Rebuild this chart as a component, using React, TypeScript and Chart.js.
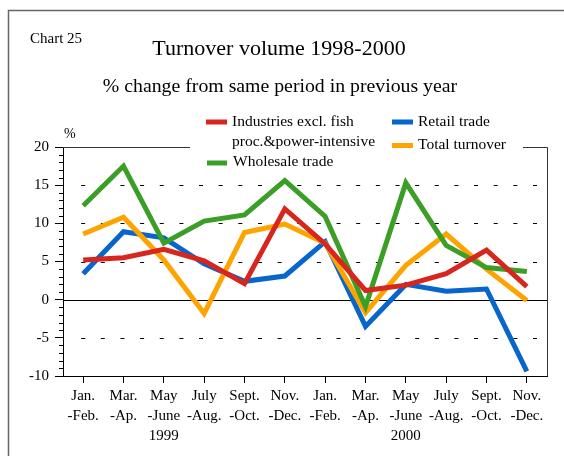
import React, { useEffect, useRef } from "react";
import { Chart, registerables } from "chart.js";

Chart.register(...registerables);

const SERIF = '"Liberation Serif", "Times New Roman", serif';

const categories: string[][] = [
  ["Jan.", "-Feb."],
  ["Mar.", "-Ap."],
  ["May", "-June", "1999"],
  ["July", "-Aug."],
  ["Sept.", "-Oct."],
  ["Nov.", "-Dec."],
  ["Jan.", "-Feb."],
  ["Mar.", "-Ap."],
  ["May", "-June", "2000"],
  ["July", "-Aug."],
  ["Sept.", "-Oct."],
  ["Nov.", "-Dec."],
];

const industries = [5.2, 5.5, 6.6, 5.1, 2.1, 11.9, 7.3, 1.2, 1.9, 3.4, 6.5, 1.7];
const wholesale = [12.3, 17.5, 7.4, 10.3, 11.1, 15.6, 10.9, -0.9, 15.3, 7.1, 4.2, 3.7];
const retail = [3.4, 8.9, 8.1, 4.7, 2.4, 3.1, 7.6, -3.5, 2.0, 1.1, 1.4, -9.4];
const total = [8.6, 10.8, 5.2, -1.8, 8.8, 9.9, 7.4, -1.7, 4.5, 8.6, 4.0, -0.1];

const yTicks = [-10, -5, 0, 5, 10, 15, 20];
const gridValues = [-5, 5, 10, 15];

const RED = "#d6261d";
const GREEN = "#3b9f27";
const BLUE = "#0666cb";
const ORANGE = "#ffa300";

const decor = {
  id: "decor",
  beforeDatasetsDraw(chart: any) {
    const { ctx, chartArea, scales } = chart;
    const { left, right, top, bottom } = chartArea;
    const x = scales.x;
    const y = scales.y;
    ctx.save();
    const x0 = x.getPixelForValue(0);
    const xEnd = right - 12;
    const n = 23;
    const period = (xEnd - x0) / n;
    ctx.strokeStyle = "#000";
    ctx.lineWidth = 1;
    gridValues.forEach((v) => {
      const py = Math.round(y.getPixelForValue(v)) + 0.5;
      ctx.beginPath();
      for (let k = 0; k <= n; k++) {
        const cx = x0 + k * period;
        ctx.moveTo(cx - 2, py);
        ctx.lineTo(cx + 2, py);
      }
      ctx.stroke();
    });
    const zy = Math.round(y.getPixelForValue(0)) + 0.5;
    ctx.beginPath();
    ctx.moveTo(left, zy);
    ctx.lineTo(right, zy);
    ctx.stroke();
    ctx.beginPath();
    for (let v = -10; v <= 20; v++) {
      if (v % 5 === 0) continue;
      const py = Math.round(y.getPixelForValue(v)) + 0.5;
      ctx.moveTo(left - 4, py);
      ctx.lineTo(left, py);
    }
    ctx.stroke();
    ctx.strokeStyle = "#333";
    ctx.beginPath();
    ctx.moveTo(left, top + 0.5);
    ctx.lineTo(190, top + 0.5);
    ctx.moveTo(523, top + 0.5);
    ctx.lineTo(right + 0.5, top + 0.5);
    ctx.lineTo(right + 0.5, bottom);
    ctx.stroke();
    ctx.restore();
  },
  afterDraw(chart: any) {
    const { ctx } = chart;
    ctx.save();
    ctx.strokeStyle = "#666";
    ctx.lineWidth = 1.5;
    ctx.beginPath();
    ctx.moveTo(8.5, 460);
    ctx.lineTo(8.5, 10.5);
    ctx.lineTo(570, 10.5);
    ctx.stroke();

    ctx.fillStyle = "#000";
    ctx.textBaseline = "alphabetic";
    ctx.textAlign = "left";
    ctx.font = `15px ${SERIF}`;
    ctx.fillText("Chart 25", 30, 43);
    ctx.textAlign = "center";
    ctx.font = `22px ${SERIF}`;
    ctx.fillText("Turnover volume 1998-2000", 279, 55);
    ctx.font = `19.8px ${SERIF}`;
    ctx.fillText("% change from same period in previous year", 280, 92);

    ctx.textAlign = "left";
    ctx.font = `14px ${SERIF}`;
    ctx.fillText("%", 64, 138);

    ctx.font = `15.5px ${SERIF}`;
    ctx.fillStyle = RED;
    ctx.fillRect(206, 119.5, 21, 5);
    ctx.fillStyle = GREEN;
    ctx.fillRect(207, 160.5, 20, 5);
    ctx.fillStyle = BLUE;
    ctx.fillRect(392, 119.5, 21, 5);
    ctx.fillStyle = ORANGE;
    ctx.fillRect(392, 143, 21, 5);
    ctx.fillStyle = "#000";
    ctx.fillText("Industries excl. fish", 232, 126);
    ctx.fillText("proc.&power-intensive", 232, 146);
    ctx.fillText("Wholesale trade", 233, 166);
    ctx.fillText("Retail trade", 418, 126);
    ctx.fillText("Total turnover", 418, 149);
    ctx.restore();
  },
};

export default function App() {
  const ref = useRef<HTMLCanvasElement>(null);
  useEffect(() => {
    const ds = (label: string, data: number[], color: string, order: number) => ({
      label,
      data,
      borderColor: color,
      backgroundColor: color,
      borderWidth: 5,
      pointRadius: 0,
      tension: 0,
      fill: false,
      order,
    });
    const chart = new Chart(ref.current as HTMLCanvasElement, {
      type: "line",
      data: {
        labels: categories as any,
        datasets: [
          ds("Industries excl. fish proc.&power-intensive", industries, RED, 0),
          ds("Wholesale trade", wholesale, GREEN, 1),
          ds("Total turnover", total, ORANGE, 2),
          ds("Retail trade", retail, BLUE, 3),
        ],
      },
      options: {
        responsive: false,
        animation: false,
        devicePixelRatio: 1,
        layout: { padding: { top: 147, right: 17, bottom: 0, left: 0 } },
        plugins: {
          legend: { display: false },
          tooltip: { enabled: false },
          title: { display: false },
        },
        scales: {
          x: {
            type: "category",
            offset: true,
            grid: {
              offset: false,
              drawOnChartArea: false,
              drawTicks: true,
              tickLength: 7,
              tickColor: "#000",
              tickWidth: 1,
            },
            border: { display: true, color: "#000", width: 1 },
            ticks: {
              color: "#000",
              font: { family: SERIF, size: 15, lineHeight: 1.33 },
              padding: 3,
              maxRotation: 0,
              minRotation: 0,
              autoSkip: false,
            },
            afterFit: (s: any) => {
              s.height = 80;
            },
          },
          y: {
            min: -10,
            max: 20,
            afterBuildTicks: (s: any) => {
              s.ticks = yTicks.map((v) => ({ value: v }));
            },
            ticks: {
              color: "#000",
              font: { family: SERIF, size: 15 },
              padding: 6,
            },
            grid: {
              drawOnChartArea: false,
              drawTicks: true,
              tickLength: 8,
              tickColor: "#000",
            },
            border: { display: true, color: "#000", width: 1 },
            afterFit: (s: any) => {
              s.width = 63;
            },
          },
        },
      },
      plugins: [decor],
    } as any);
    return () => chart.destroy();
  }, []);
  return (
    <canvas
      ref={ref}
      width={564}
      height={456}
      style={{ position: "fixed", left: 0, top: 0, width: 564, height: 456, background: "#fff" }}
    />
  );
}
